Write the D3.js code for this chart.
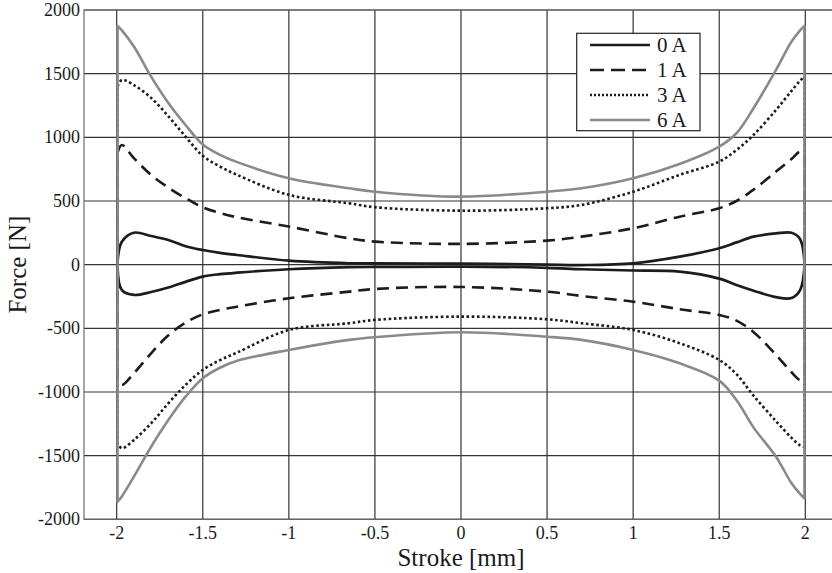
<!DOCTYPE html>
<html><head><meta charset="utf-8">
<script src="https://cdn.jsdelivr.net/npm/d3@7"></script>
<style>html,body{margin:0;padding:0;background:#fff;}svg{display:block;}
text{font-family:"Liberation Serif","DejaVu Serif",serif;}</style>
</head><body>
<svg id="chart" width="832" height="573"></svg>
<script>
// ---- data ----
const strokePts = [-1.995, -1.97, -1.9, -1.8, -1.7, -1.6, -1.5, -1.4, -1.3, -1, -0.65, -0.5, 0, 0.5, 0.7, 1, 1.27, 1.5, 1.6, 1.7, 1.83, 1.92, 1.97, 1.995];
const upper0A = [20, 180, 251, 225, 194, 145, 115, 92, 76, 31, 11, 10, 8, 0, -3, 10, 63, 129, 175, 220, 245, 250, 200, 20];
const lower0A = [-20, -200, -238, -215, -180, -135, -94, -75, -63, -36, -20, -18, -15, -25, -36, -46, -55, -110, -160, -205, -255, -262, -200, -20];
const upper1A = [880, 940, 836, 705, 605, 522, 450, 405, 372, 299, 207, 181, 163, 189, 220, 286, 377, 443, 500, 590, 731, 830, 888, 870];
const lower1A = [-900, -945, -853, -696, -555, -455, -390, -355, -330, -264, -212, -191, -175, -212, -246, -291, -350, -395, -440, -530, -709, -845, -905, -880];
const upper3A = [1400, 1451, 1410, 1310, 1165, 1005, 855, 770, 705, 548, 482, 451, 424, 443, 469, 573, 705, 809, 900, 1020, 1215, 1365, 1445, 1477];
const lower3A = [-1400, -1442, -1377, -1246, -1089, -945, -827, -750, -690, -513, -460, -434, -408, -429, -460, -513, -617, -749, -860, -1030, -1230, -1360, -1420, -1430];
const upper6A = [1875, 1840, 1713, 1477, 1270, 1097, 943, 862, 805, 679, 600, 573, 534, 573, 600, 679, 791, 927, 1032, 1230, 1529, 1752, 1840, 1875];
const lower6A = [-1862, -1820, -1665, -1430, -1220, -1037, -892, -810, -755, -670, -591, -570, -531, -566, -591, -670, -775, -911, -1063, -1280, -1508, -1717, -1800, -1835];
const seriesNames = ["0 A", "1 A", "3 A", "6 A"];
const xTicks = [-2, -1.5, -1, -0.5, 0, 0.5, 1, 1.5, 2];
const yTicks = [-2000, -1500, -1000, -500, 0, 500, 1000, 1500, 2000];
const xLabel = "Stroke [mm]";
const yLabel = "Force [N]";

// ---- styles ----
const styles = [
  {color: "#1c1c1c", dash: null, width: 2.7},
  {color: "#1c1c1c", dash: "12,7", width: 2.6},
  {color: "#1c1c1c", dash: "2.6,2.6", width: 2.6},
  {color: "#8a8a8a", dash: null, width: 2.6}
];
const uppers = [upper0A, upper1A, upper3A, upper6A];
const lowers = [lower0A, lower1A, lower3A, lower6A];

const svg = d3.select("#chart");
const x = d3.scaleLinear().domain([-2, 2]).range([116.7, 805.3]);
const y = d3.scaleLinear().domain([-2000, 2000]).range([519.3, 10]);
const xMin = -2.19, xMax = 2.19;

// grid
const g = svg.append("g");
g.selectAll("line.v").data(xTicks).enter().append("line")
  .attr("x1", d => x(d)).attr("x2", d => x(d))
  .attr("y1", y(2000)).attr("y2", y(-2000))
  .attr("stroke", "#333").attr("stroke-width", 1.2);
g.selectAll("line.h").data(yTicks).enter().append("line")
  .attr("x1", x(xMin)).attr("x2", x(xMax))
  .attr("y1", d => y(d)).attr("y2", d => y(d))
  .attr("stroke", "#333").attr("stroke-width", 1.2);
// frame
svg.append("rect").attr("x", x(xMin)).attr("y", y(2000))
  .attr("width", x(xMax) - x(xMin)).attr("height", y(-2000) - y(2000))
  .attr("fill", "none").attr("stroke", "#6a6a6a").attr("stroke-width", 1.2);

// curves: open branches joined by straight vertical segments
const line = d3.line().x(d => x(d[0])).y(d => y(d[1])).curve(d3.curveCatmullRom.alpha(0.5));
seriesNames.forEach((name, i) => {
  const up = strokePts.map((s, k) => [s, uppers[i][k]]);
  const lo = strokePts.map((s, k) => [s, lowers[i][k]]).reverse();
  const d = line(up) + "L" + line(lo).slice(1) + "Z";
  const p = svg.append("path").attr("d", d)
    .attr("fill", "none").attr("stroke", styles[i].color)
    .attr("stroke-width", styles[i].width).attr("stroke-linejoin", "round");
  if (styles[i].dash) p.attr("stroke-dasharray", styles[i].dash);
});

// tick labels
svg.selectAll("text.yt").data(yTicks).enter().append("text")
  .attr("x", 80).attr("y", d => y(d) + 6)
  .attr("text-anchor", "end").attr("font-size", 18)
  .attr("fill", "#1a1a1a").text(d => d);
svg.selectAll("text.xt").data(xTicks).enter().append("text")
  .attr("x", d => x(d)).attr("y", 539)
  .attr("text-anchor", "middle").attr("font-size", 18)
  .attr("fill", "#1a1a1a").text(d => d);

// axis titles
svg.append("text").attr("x", x(0)).attr("y", 566)
  .attr("text-anchor", "middle").attr("font-size", 25)
  .attr("fill", "#1a1a1a").text(xLabel);
svg.append("text").attr("transform", `translate(26,${y(0)}) rotate(-90)`)
  .attr("text-anchor", "middle").attr("font-size", 25)
  .attr("fill", "#1a1a1a").text(yLabel);

// legend
const lg = svg.append("g");
lg.append("rect").attr("x", 576.7).attr("y", 33.3).attr("width", 123.3).attr("height", 97.4)
  .attr("fill", "#fff").attr("stroke", "#222").attr("stroke-width", 1.2);
seriesNames.forEach((name, i) => {
  const cy = 45 + i * 25;
  const l = lg.append("line").attr("x1", 590).attr("x2", 650).attr("y1", cy).attr("y2", cy)
    .attr("stroke", styles[i].color).attr("stroke-width", styles[i].width);
  if (styles[i].dash) l.attr("stroke-dasharray", i === 2 ? "2,2" : "14,7");
  lg.append("text").attr("x", 657).attr("y", cy + 7)
    .attr("font-size", 21).attr("fill", "#1a1a1a").text(name);
});
</script>
</body></html>
